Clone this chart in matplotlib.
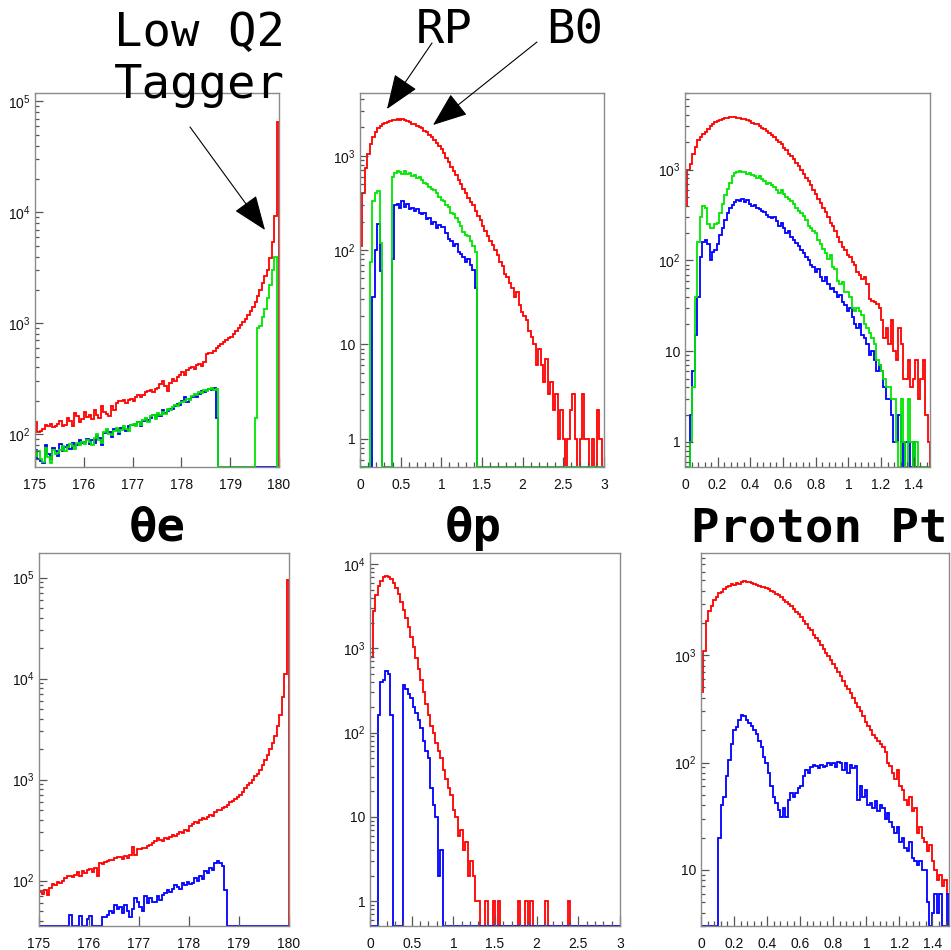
import numpy as np
import matplotlib
matplotlib.use("Agg")
import matplotlib.pyplot as plt
from matplotlib.ticker import MultipleLocator, LogLocator, FuncFormatter, NullLocator, NullFormatter

plt.rcParams['font.family'] = ['Liberation Sans', 'DejaVu Sans']
plt.rcParams['mathtext.default'] = 'regular'

# ---------------- data (bin contents) ----------------
# theta_e, 175..180 deg, 100 bins
te_edges = np.linspace(175, 180, 101)
te_top_red = [128, 104, 108, 112, 121, 118, 124, 116, 119, 124, 131, 118, 122, 140, 132, 118, 155, 145, 128, 138,
              160, 142, 150, 136, 165, 150, 140, 178, 160, 152, 145, 178, 165, 190, 200, 198, 202, 192, 205, 210,
              200, 215, 225, 218, 228, 238, 245, 250, 240, 255, 262, 285, 300, 270, 245, 290, 318, 305, 330, 345,
              365, 340, 378, 395, 405, 385, 420, 430, 415, 450, 525, 545, 540, 560, 600, 620, 655, 680, 700, 730,
              760, 800, 850, 900, 960, 1020, 1100, 1200, 1300, 1400, 1550, 1750, 2000, 2300, 2650, 3000, 3900, 5400, 9300, 65000]
te_top_green = [64, 70, 60, 56, 75, 62, 55, 72, 66, 68, 72, 78, 70, 76, 82, 78, 74, 84, 80, 86,
                82, 88, 86, 80, 92, 100, 88, 84, 105, 112, 100, 98, 108, 115, 104, 110, 118, 112, 108, 120,
                125, 118, 130, 122, 135, 140, 128, 145, 150, 138, 155, 148, 160, 152, 170, 165, 175, 185, 178, 190,
                195, 200, 210, 205, 220, 230, 225, 240, 235, 250, 245, 255, 262, 250, 255, 0, 0, 0, 0, 0,
                0, 0, 0, 0, 0, 0, 0, 0, 0, 0, 140, 900, 950, 1150, 1350, 1700, 2200, 3000, 4000, 0]
te_top_blue = [72, 60, 58, 55, 80, 66, 60, 75, 70, 64, 82, 70, 76, 80, 74, 84, 78, 80, 88, 84,
               86, 90, 82, 88, 84, 96, 92, 80, 102, 108, 104, 95, 112, 110, 100, 115, 112, 108, 118, 122,
               120, 125, 128, 118, 132, 138, 135, 140, 148, 142, 150, 145, 165, 155, 162, 170, 168, 180, 188, 182,
               200, 215, 196, 210, 218, 222, 215, 230, 245, 240, 250, 258, 248, 262, 140, 0, 0, 0, 0, 0,
               0, 0, 0, 0, 0, 0, 0, 0, 0, 0, 0, 0, 0, 0, 0, 0, 0, 0, 0, 0]
te_bot_red = [78, 74, 80, 72, 84, 92, 90, 96, 95, 100, 106, 110, 112, 108, 115, 122, 112, 125, 118, 128,
              130, 122, 135, 112, 150, 145, 152, 158, 162, 160, 168, 172, 170, 165, 175, 168, 180, 215, 180, 205,
              208, 212, 210, 220, 228, 235, 245, 262, 255, 248, 265, 258, 270, 280, 275, 290, 300, 295, 315, 310,
              345, 365, 380, 370, 400, 420, 410, 430, 450, 440, 480, 500, 495, 520, 540, 560, 600, 620, 650, 680,
              700, 760, 820, 880, 920, 1000, 1080, 1150, 1250, 1400, 1550, 1750, 2000, 2300, 2700, 3400, 4400, 6600, 11000, 95000]
te_bot_blue = [0, 0, 0, 0, 0, 0, 0, 0, 0, 0, 0, 0, 46, 0, 0, 0, 45, 0, 0, 42,
               45, 0, 0, 0, 0, 44, 44, 46, 50, 48, 57, 52, 55, 48, 58, 50, 44, 52, 68, 62,
               55, 50, 70, 60, 68, 62, 62, 70, 64, 72, 75, 80, 78, 82, 90, 86, 82, 94, 90, 96,
               92, 95, 106, 100, 112, 105, 125, 118, 135, 128, 150, 155, 150, 140, 80, 0, 0, 0, 0, 0,
               0, 0, 0, 0, 0, 0, 0, 0, 0, 0, 0, 0, 0, 0, 0, 0, 0, 0, 0, 0]

# theta_p, 0..3, 100 bins
tp_edges = np.linspace(0, 3, 101)
tp_top_red = [110, 400, 750, 1050, 1350, 1600, 1800, 1950, 2080, 2180, 2250, 2300, 2350, 2400, 2420, 2450, 2400, 2430, 2380, 2330,
              2270, 2200, 2150, 2080, 2000, 1950, 1850, 1780, 1680, 1580, 1480, 1380, 1280, 1180, 1070, 960, 860, 770, 690, 620,
              560, 500, 450, 400, 360, 320, 300, 260, 230, 210, 180, 160, 140, 125, 112, 100, 88, 75, 68, 56,
              52, 45, 40, 32, 36, 26, 22, 20, 18, 14, 12, 10, 6, 9, 6, 4, 7, 3, 4, 2,
              3, 1, 2, 1, 0, 1, 2, 3, 1, 0, 1, 3, 1, 1, 0, 1, 0, 2, 1, 0]
tp_top_green = [0, 0, 0, 0, 75, 330, 400, 420, 120, 0, 0, 0, 0, 594, 650, 690, 680, 640, 690, 640,
                650, 610, 620, 580, 590, 550, 520, 500, 470, 440, 430, 400, 370, 340, 330, 300, 290, 250, 240, 220,
                200, 180, 155, 145, 140, 125, 110, 95, 0, 0, 0, 0, 0, 0, 0, 0, 0, 0, 0, 0,
                0, 0, 0, 0, 0, 0, 0, 0, 0, 0, 0, 0, 0, 0, 0, 0, 0, 0, 0, 0,
                0, 0, 0, 0, 0, 0, 0, 0, 0, 0, 0, 0, 0, 0, 0, 0, 0, 0, 0, 0]
tp_top_blue = [0, 0, 0, 0, 0, 32, 100, 190, 60, 0, 0, 0, 0, 80, 300, 310, 280, 330, 290, 310,
               270, 280, 260, 270, 250, 240, 250, 215, 220, 190, 200, 170, 185, 175, 175, 150, 130, 125, 110, 115,
               95, 90, 85, 75, 80, 70, 62, 40, 0, 0, 0, 0, 0, 0, 0, 0, 0, 0, 0, 0,
               0, 0, 0, 0, 0, 0, 0, 0, 0, 0, 0, 0, 0, 0, 0, 0, 0, 0, 0, 0,
               0, 0, 0, 0, 0, 0, 0, 0, 0, 0, 0, 0, 0, 0, 0, 0, 0, 0, 0, 0]
tp_bot_red = [800, 2800, 4300, 5500, 6400, 7000, 7300, 7100, 6600, 6000, 5200, 4400, 3600, 2900, 2300, 1800, 1380, 1050, 780, 570,
              420, 300, 220, 160, 120, 98, 75, 60, 50, 36, 28, 22, 18, 12, 10, 6, 7, 4, 5, 2,
              3, 2, 1, 1, 0, 0, 1, 0, 0, 1, 0, 1, 0, 0, 0, 0, 0, 0, 0, 1,
              0, 0, 1, 0, 1, 0, 0, 0, 0, 0, 1, 0, 0, 0, 0, 0, 0, 0, 0, 1,
              0, 0, 0, 0, 0, 0, 0, 0, 0, 0, 0, 0, 0, 0, 0, 0, 0, 0, 0, 0]
tp_bot_blue = [0, 0, 0, 160, 400, 420, 545, 500, 160, 0, 0, 0, 0, 370, 330, 290, 260, 200, 170, 140,
               115, 80, 60, 50, 22, 14, 10, 2, 4, 0, 0, 0, 0, 0, 0, 0, 0, 0, 0, 0,
               0, 0, 0, 0, 0, 0, 0, 0, 0, 0, 0, 0, 0, 0, 0, 0, 0, 0, 0, 0,
               0, 0, 0, 0, 0, 0, 0, 0, 0, 0, 0, 0, 0, 0, 0, 0, 0, 0, 0, 0,
               0, 0, 0, 0, 0, 0, 0, 0, 0, 0, 0, 0, 0, 0, 0, 0, 0, 0, 0, 0]

# proton pt, 0..1.5, 100 bins
pt_edges = np.linspace(0, 1.5, 101)
pt_top_red = [400, 1000, 1150, 1500, 1800, 2100, 2300, 2450, 2600, 2800, 3000, 3200, 3350, 3450, 3550, 3650, 3700, 3750, 3800, 3850,
              3800, 3750, 3700, 3650, 3600, 3500, 3400, 3300, 3150, 3150, 3000, 2900, 2800, 2650, 2550, 2400, 2300, 2150, 2000, 1900,
              1750, 1650, 1500, 1400, 1300, 1200, 1100, 1000, 900, 820, 750, 680, 600, 540, 480, 430, 380, 340, 300, 260,
              240, 210, 180, 160, 140, 130, 115, 110, 95, 90, 75, 70, 62, 65, 55, 38, 36, 35, 33, 30,
              22, 14, 18, 12, 22, 10, 8, 18, 12, 5, 5, 8, 4, 5, 8, 3, 5, 8, 2, 1]
pt_top_green = [0, 0, 1, 4, 40, 160, 300, 400, 380, 250, 230, 230, 250, 260, 330, 420, 520, 620, 720, 850,
                920, 950, 960, 950, 940, 900, 920, 880, 850, 820, 860, 780, 760, 700, 720, 680, 640, 600, 560, 600,
                540, 500, 470, 450, 420, 380, 350, 330, 310, 280, 240, 230, 210, 200, 170, 150, 135, 120, 105, 115,
                85, 80, 60, 55, 58, 45, 45, 40, 30, 28, 30, 28, 25, 20, 18, 16, 14, 12, 8, 7,
                6, 5, 4, 4, 3, 3, 1, 0, 3, 1, 0, 3, 1, 0, 1, 0, 0, 0, 0, 0]
pt_top_blue = [0, 0, 2, 6, 15, 40, 110, 160, 170, 150, 100, 125, 130, 150, 190, 230, 280, 330, 380, 410,
               440, 460, 455, 470, 440, 460, 420, 400, 410, 380, 370, 350, 340, 320, 300, 290, 300, 270, 240, 260,
               230, 200, 210, 180, 170, 155, 145, 130, 120, 110, 100, 90, 85, 75, 80, 65, 60, 65, 55, 48,
               50, 45, 40, 42, 35, 32, 28, 30, 24, 20, 18, 20, 15, 14, 12, 9, 10, 8, 6, 7,
               6, 4, 3, 3, 2, 1, 1, 2, 1, 0, 1, 1, 0, 1, 0, 0, 0, 0, 0, 0]
pt_bot_red = [450, 1100, 2100, 2600, 2900, 3300, 3500, 3800, 3900, 4100, 4300, 4400, 4600, 4550, 4700, 4650, 4800, 4950, 4850, 4800,
              4750, 4650, 4550, 4450, 4350, 4300, 4200, 4100, 3950, 3900, 3750, 3600, 3450, 3300, 3150, 3000, 2850, 2700, 2550, 2400,
              2250, 2100, 1950, 1800, 1700, 1550, 1450, 1350, 1250, 1150, 1050, 980, 900, 830, 760, 700, 640, 580, 520, 480,
              440, 400, 360, 330, 300, 270, 240, 220, 200, 180, 170, 160, 150, 140, 125, 100, 92, 80, 70, 85,
              60, 55, 45, 40, 48, 35, 38, 22, 25, 20, 18, 15, 17, 12, 10, 8, 9, 7, 8, 6]
pt_bot_blue = [0, 0, 0, 0, 0, 0, 0, 20, 40, 48, 75, 106, 150, 200, 215, 250, 280, 270, 250, 235,
               220, 200, 186, 160, 140, 113, 100, 80, 60, 48, 42, 36, 31, 38, 31, 45, 52, 48, 52, 58,
               60, 75, 85, 80, 90, 95, 92, 88, 95, 90, 92, 98, 95, 100, 90, 102, 98, 85, 100, 80,
               95, 88, 92, 45, 60, 48, 55, 40, 42, 38, 44, 35, 40, 38, 30, 34, 28, 25, 22, 25,
               18, 20, 16, 15, 18, 13, 12, 11, 12, 10, 10, 5, 0, 4, 6, 4, 6, 3, 0, 6]

W, H = 951, 950


def rect(x0, y0, x1, y1):
    # pixel box (from top-left) -> figure fraction
    return [x0 / W, 1 - y1 / H, (x1 - x0) / W, (y1 - y0) / H]


def log_label(v, pos):
    if v <= 0:
        return ''
    e = int(round(np.log10(v)))
    if abs(np.log10(v) - e) > 1e-6:
        return ''
    if e == 0:
        return '1'
    if e == 1:
        return '10'
    return r'$10^{%d}$' % e


def style(ax, xlim, ylim, major, minor):
    ax.set_yscale('log')
    ax.set_xlim(*xlim)
    ax.set_ylim(*ylim)
    for s in ax.spines.values():
        s.set_color('#8a8a8a')
        s.set_linewidth(1.0)
    ax.xaxis.set_major_locator(MultipleLocator(major))
    if minor:
        ax.xaxis.set_minor_locator(MultipleLocator(minor))
    else:
        ax.xaxis.set_minor_locator(NullLocator())
    ax.xaxis.set_major_formatter(FuncFormatter(lambda v, p: '%g' % round(v, 3)))
    ax.yaxis.set_major_locator(LogLocator(base=10))
    ax.yaxis.set_minor_locator(LogLocator(base=10, subs=np.arange(2, 10)))
    ax.yaxis.set_major_formatter(FuncFormatter(log_label))
    ax.yaxis.set_minor_formatter(NullFormatter())
    ax.tick_params(which='both', direction='in', color='#555555', width=0.9,
                   labelsize=10, labelcolor='#111111', top=False, right=False)
    ax.tick_params(axis='x', which='major', length=7, pad=8)
    ax.tick_params(axis='x', which='minor', length=3.5)
    ax.tick_params(axis='y', which='major', length=6, pad=3)
    ax.tick_params(axis='y', which='minor', length=3)


def hist(ax, vals, edges, color, ymin):
    v = np.maximum(np.asarray(vals, dtype=float), ymin)
    ax.stairs(v, edges, baseline=ymin, color=color, lw=1.3)


fig = plt.figure(figsize=(W / 100, H / 100), dpi=100)

panels = [
    (rect(35, 93, 279, 467), te_edges, [te_top_red, te_top_blue, te_top_green], (175, 180), (50.7, 1.19e5), 1, None),
    (rect(360, 93, 604, 467), tp_edges, [tp_top_red, tp_top_blue, tp_top_green], (0, 3), (0.5, 4640), 0.5, 0.1),
    (rect(685, 93, 930, 467), pt_edges, [pt_top_red, pt_top_blue, pt_top_green], (0, 1.5), (0.53, 7000), 0.2, 0.04),
    (rect(39, 553, 289, 926), te_edges, [te_bot_red, te_bot_blue], (175, 180), (35.6, 1.75e5), 1, None),
    (rect(370, 553, 620, 926), tp_edges, [tp_bot_red, tp_bot_blue], (0, 3), (0.505, 13600), 0.5, 0.1),
    (rect(701, 553, 949, 926), pt_edges, [pt_bot_red, pt_bot_blue], (0, 1.5), (3.0, 8950), 0.2, 0.04),
]
colors = ['#ff0000', '#0000ff', '#00e600']

for box, edges, series, xlim, ylim, major, minor in panels:
    ax = fig.add_axes(box)
    style(ax, xlim, ylim, major, minor)
    for vals, c in zip(series, colors):
        hist(ax, vals, edges, c, ylim[0])

# overlay for titles and arrows, in image pixels
ov = fig.add_axes([0, 0, 1, 1], zorder=10)
ov.set_xlim(0, W)
ov.set_ylim(H, 0)
ov.axis('off')

mono = 'DejaVu Sans Mono'
ov.text(114, 46, 'Low Q2', family=mono, fontsize=34, va='baseline', ha='left')
ov.text(114, 98, 'Tagger', family=mono, fontsize=34, va='baseline', ha='left')
ov.text(416, 43, 'RP', family=mono, fontsize=34, va='baseline', ha='left')
ov.text(546, 43, 'B0', family=mono, fontsize=34, va='baseline', ha='left')

ov.text(157, 541, 'θe', family=mono, fontsize=34, fontweight='bold', va='baseline', ha='center')
ov.text(473, 541, 'θp', family=mono, fontsize=34, fontweight='bold', va='baseline', ha='center')
ov.text(691, 541, 'Proton Pt', family=mono, fontsize=34, fontweight='bold', va='baseline', ha='left')

arrows = [((190, 127), (265, 230)), ((432, 43), (387, 109)), ((537, 42), (433, 125))]
for start, tip in arrows:
    ov.annotate('', xy=tip, xytext=start,
                arrowprops=dict(arrowstyle='-|>,head_length=22,head_width=8.5', mutation_scale=1,
                                lw=0.8, color='black', shrinkA=0, shrinkB=0))

fig.savefig('out.png', dpi=100)
